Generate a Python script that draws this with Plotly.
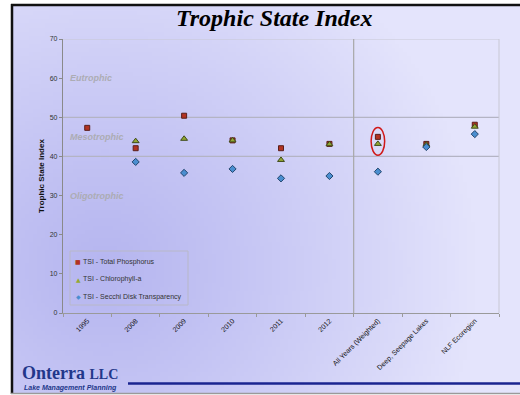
import base64
import struct
import zlib

import plotly.graph_objects as go

# ---- data -------------------------------------------------------------
categories = ["1995", "2008", "2009", "2010", "2011", "2012",
              "All Years (Weighted)", "Deep, Seepage Lakes", "NLF Ecoregion"]
tsi_phosphorus = [47.3, 42.1, 50.4, 44.1, 42.1, 43.2, 45.0, 43.2, 48.1]
tsi_chlorophyll = [None, 43.9, 44.5, 44.1, 39.1, 43.1, 43.2, 43.0, 47.6]
tsi_secchi = [None, 38.6, 35.8, 36.8, 34.4, 35.0, 36.1, 42.4, 45.7]
series_names = ["TSI - Total Phosphorus", "TSI - Chlorophyll-a",
                "TSI - Secchi Disk Transparency"]
state_labels = ["Eutrophic", "Mesotrophic", "Oligotrophic"]
state_label_values = [60, 45, 30]
state_bounds = [40, 50]
y_ticks = [0, 10, 20, 30, 40, 50, 60, 70]

W, H = 520, 395
L, R, T, B = 63, 21, 39, 82
PW, PH = W - L - R, H - T - B


def px_x(p):
    return (p - L) / PW


def px_y(p):
    return (H - B - p) / PH


def gradient_png(w, h):
    """Lavender slide background, deeper toward the lower left."""
    dark = (182, 182, 240)
    light = (228, 228, 252)
    cx, cy = 0.18, 0.68
    rows = []
    for j in range(h):
        row = bytearray([0])
        for i in range(w):
            dx = (i / (w - 1) - cx) * 1.3
            dy = (j / (h - 1) - cy)
            d = min(1.0, (dx * dx + dy * dy) ** 0.5 / 0.95)
            t = d ** 1.1
            row += bytes(int(dark[k] + (light[k] - dark[k]) * t) for k in range(3))
        rows.append(bytes(row))
    raw = b"".join(rows)

    def chunk(tag, data):
        c = tag + data
        return struct.pack(">I", len(data)) + c + struct.pack(">I", zlib.crc32(c) & 0xFFFFFFFF)

    png = b"\x89PNG\r\n\x1a\n"
    png += chunk(b"IHDR", struct.pack(">IIBBBBB", w, h, 8, 2, 0, 0, 0))
    png += chunk(b"IDAT", zlib.compress(raw, 9))
    png += chunk(b"IEND", b"")
    return "data:image/png;base64," + base64.b64encode(png).decode()


series_style = [
    dict(symbol="square", size=5, color="#b23322", line=dict(color="#5a1f1a", width=1)),
    dict(symbol="triangle-up", size=6, color="#94a834", line=dict(color="#3e4a18", width=1)),
    dict(symbol="diamond", size=5.5, color="#4a8ed0", line=dict(color="#23466e", width=1)),
]
legend_glyphs = ["■", "▲", "◆"]

fig = go.Figure()
for name, values, style in zip(series_names,
                               [tsi_phosphorus, tsi_chlorophyll, tsi_secchi],
                               series_style):
    fig.add_trace(go.Scatter(x=categories, y=values, mode="markers", name=name,
                             marker=style, showlegend=False))

shapes = []
# trophic state boundaries and plot frame
for v in state_bounds:
    shapes.append(dict(type="line", xref="paper", yref="y", x0=0, x1=1, y0=v, y1=v,
                       line=dict(color="#b4b4c4", width=1.2), layer="below"))
shapes.append(dict(type="line", xref="paper", yref="y", x0=0, x1=1, y0=70, y1=70,
                   line=dict(color="#c8c8d4", width=1), layer="below"))
shapes.append(dict(type="line", xref="paper", yref="paper", x0=1, x1=1, y0=0, y1=1,
                   line=dict(color="#c8c8d4", width=1), layer="below"))
# separator between yearly values and comparison values
shapes.append(dict(type="line", xref="x", yref="y", x0=5.5, x1=5.5, y0=0, y1=70,
                   line=dict(color="#a8a8a8", width=1.2), layer="below"))
# highlight around the weighted all-years value
shapes.append(dict(type="circle", xref="x", yref="y", x0=5.86, x1=6.14, y0=40.3, y1=47.4,
                   line=dict(color="#d01818", width=1.5)))
# legend box
shapes.append(dict(type="rect", xref="paper", yref="paper",
                   x0=px_x(70), x1=px_x(188), y0=px_y(251), y1=px_y(305),
                   line=dict(color="#b8b8c8", width=1), layer="below"))
# slide frame
shapes.append(dict(type="line", xref="paper", yref="paper",
                   x0=px_x(11), x1=px_x(521), y0=px_y(5), y1=px_y(5),
                   line=dict(color="#111111", width=2.5)))
shapes.append(dict(type="line", xref="paper", yref="paper",
                   x0=px_x(12), x1=px_x(12), y0=px_y(4), y1=px_y(394),
                   line=dict(color="#111111", width=2.5)))
shapes.append(dict(type="line", xref="paper", yref="paper",
                   x0=px_x(11), x1=px_x(521), y0=px_y(393.5), y1=px_y(393.5),
                   line=dict(color="#9a9a9a", width=1.5)))
# footer rule
shapes.append(dict(type="line", xref="paper", yref="paper",
                   x0=px_x(128), x1=px_x(521), y0=px_y(383.5), y1=px_y(383.5),
                   line=dict(color="#1a2490", width=2.5)))

annotations = []
for lab, v in zip(state_labels, state_label_values):
    annotations.append(dict(
        text=f"<b><i>{lab}</i></b>", xref="paper", yref="y", x=px_x(68), y=v,
        xanchor="left", yanchor="middle", showarrow=False,
        font=dict(family="Liberation Sans, Arial", size=9, color="#acacb4"),
    ))

# legend entries
for i, (name, glyph, style) in enumerate(zip(series_names, legend_glyphs, series_style)):
    ypx = 261.5 + i * 17.6
    annotations.append(dict(
        text=glyph, xref="paper", yref="paper", x=px_x(78), y=px_y(ypx),
        xanchor="center", yanchor="middle", showarrow=False,
        font=dict(family="DejaVu Sans", size=6, color=style["color"]),
    ))
    annotations.append(dict(
        text=name, xref="paper", yref="paper", x=px_x(80.5), y=px_y(ypx),
        xanchor="left", yanchor="middle", showarrow=False,
        font=dict(family="Liberation Sans, Arial", size=7, color="#333333"),
    ))

annotations.append(dict(
    text="<b><i>Trophic State Index</i></b>", xref="paper", yref="paper",
    x=px_x(274), y=px_y(18), xanchor="center", yanchor="middle", showarrow=False,
    font=dict(family="Liberation Serif, serif", size=24, color="#000000"),
))
annotations.append(dict(
    text="<b>Onterra <span style='font-size:14px'>LLC</span></b>", xref="paper", yref="paper",
    x=px_x(20), y=px_y(373), xanchor="left", yanchor="middle", showarrow=False,
    font=dict(family="Liberation Serif, serif", size=18, color="#22378a"),
))
annotations.append(dict(
    text="<b><i>Lake Management Planning</i></b>", xref="paper", yref="paper",
    x=px_x(22), y=px_y(387.5), xanchor="left", yanchor="middle", showarrow=False,
    font=dict(family="Liberation Sans, Arial", size=7, color="#22378a"),
))

fig.update_layout(
    width=W, height=H,
    margin=dict(l=L, r=R, t=T, b=B, pad=0),
    paper_bgcolor="#ffffff",
    plot_bgcolor="rgba(0,0,0,0)",
    font=dict(family="Liberation Sans, Arial", size=7, color="#333333"),
    showlegend=False,
    xaxis=dict(
        type="category", categoryorder="array", categoryarray=categories,
        range=[-0.5, 8.5], showgrid=False, zeroline=False,
        showline=True, linecolor="#9a9a9a", linewidth=1.2,
        ticks="outside", tickson="boundaries", ticklen=3, tickcolor="#9a9a9a",
        tickangle=-45, tickfont=dict(size=7, color="#111111"),
    ),
    yaxis=dict(
        range=[0, 70], tickvals=y_ticks, showgrid=False, zeroline=False,
        showline=True, linecolor="#8a8a8a", linewidth=1.2,
        ticks="outside", ticklen=3, tickcolor="#8a8a8a",
        tickfont=dict(size=7, color="#333333"),
        title=dict(text="<b>Trophic State Index</b>", standoff=3,
                   font=dict(size=8, color="#111111")),
    ),
    shapes=shapes,
    annotations=annotations,
    images=[dict(
        source=gradient_png(128, 96), xref="paper", yref="paper",
        x=px_x(11), y=px_y(5), sizex=(521 - 11) / PW, sizey=(394 - 5) / PH,
        xanchor="left", yanchor="top", sizing="stretch", layer="below",
    )],
)

fig.write_html("out.html")
